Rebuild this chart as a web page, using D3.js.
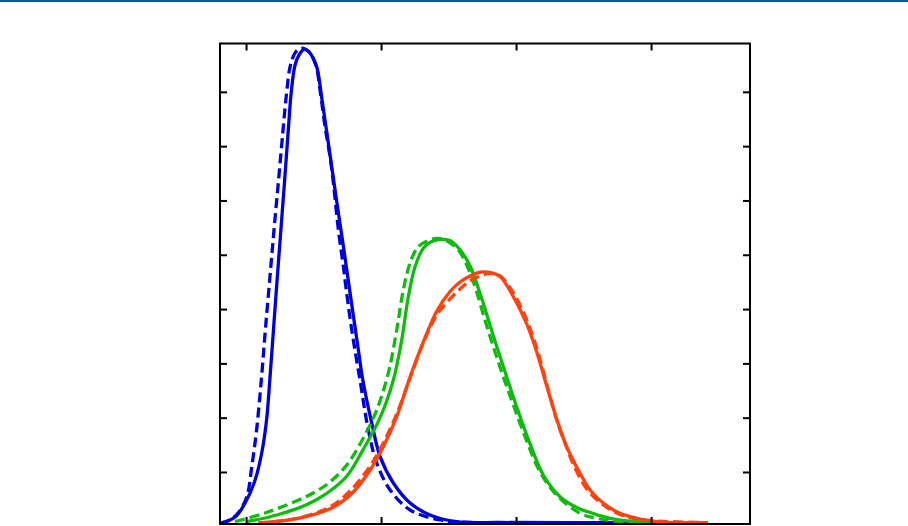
<!DOCTYPE html>
<html><head><meta charset="utf-8">
<script src="https://cdn.jsdelivr.net/npm/d3@7"></script>
<style>html,body{margin:0;padding:0;background:#fff;}svg{display:block;}</style>
</head><body>
<script>
// Tick values (axes carry no labels in the reference)
const xTicks = [1, 2, 3, 4];
const yTicks = [1, 2, 3, 4, 5, 6, 7, 8];

// Series: [x, y] pairs
const blueSolid = [[0.807,0.055],[0.919,0.171],[0.993,0.429],[1.067,0.853],[1.116,1.350],[1.152,1.958],[1.176,2.694],[1.203,3.615],[1.230,4.536],[1.258,5.457],[1.286,6.378],[1.313,7.298],[1.335,7.998],[1.363,8.495],[1.393,8.679],[1.430,8.781],[1.467,8.735],[1.496,8.624],[1.526,8.440],[1.563,7.851],[1.617,6.930],[1.670,6.009],[1.725,5.088],[1.778,4.167],[1.832,3.247],[1.865,2.694],[1.931,1.902],[1.993,1.282],[2.091,0.797],[2.215,0.429],[2.363,0.208],[2.561,0.085],[2.881,0.070],[3.622,0.066],[4.422,0.066]];
const blueDashed = [[0.807,0.055],[0.881,0.116],[0.941,0.245],[1.005,0.540],[1.042,1.092],[1.078,1.773],[1.113,2.694],[1.143,3.615],[1.175,4.536],[1.207,5.457],[1.241,6.378],[1.274,7.298],[1.301,7.998],[1.326,8.458],[1.363,8.716],[1.400,8.799],[1.437,8.790],[1.474,8.716],[1.519,8.477],[1.548,8.035],[1.585,7.359],[1.622,6.807],[1.647,6.322],[1.684,5.457],[1.721,4.781],[1.733,4.536],[1.783,3.615],[1.844,2.694],[1.906,1.773],[1.968,1.166],[2.067,0.669],[2.215,0.300],[2.437,0.116],[2.659,0.070],[4.422,0.066]];
const greenSolid = [[1.005,0.088],[1.141,0.153],[1.264,0.236],[1.400,0.346],[1.511,0.475],[1.622,0.650],[1.746,0.922],[1.869,1.420],[1.993,2.000],[2.091,2.694],[2.153,3.431],[2.202,4.228],[2.252,4.781],[2.313,5.120],[2.363,5.227],[2.413,5.273],[2.459,5.285],[2.511,5.263],[2.585,5.092],[2.659,4.797],[2.733,4.291],[2.832,3.505],[2.931,2.750],[3.005,2.198],[3.104,1.516],[3.202,0.945],[3.326,0.545],[3.461,0.331],[3.548,0.254],[3.696,0.147],[3.894,0.085],[4.422,0.066]];
const greenDashed = [[0.919,0.085],[1.141,0.245],[1.381,0.475],[1.511,0.632],[1.622,0.816],[1.746,1.129],[1.869,1.626],[1.968,2.142],[2.054,2.823],[2.116,3.615],[2.165,4.352],[2.215,4.849],[2.276,5.149],[2.363,5.273],[2.415,5.300],[2.461,5.285],[2.511,5.217],[2.561,5.125],[2.610,4.941],[2.684,4.499],[2.783,3.689],[2.881,2.934],[2.980,2.234],[3.079,1.571],[3.178,1.000],[3.301,0.576],[3.474,0.239],[3.598,0.147],[3.770,0.085],[4.422,0.066]];
const redSolid = [[1.091,0.061],[1.387,0.147],[1.635,0.337],[1.785,0.608],[1.919,1.037],[2.017,1.466],[2.116,2.018],[2.215,2.755],[2.313,3.394],[2.413,3.965],[2.511,4.324],[2.585,4.499],[2.659,4.610],[2.746,4.683],[2.807,4.674],[2.881,4.600],[2.980,4.228],[3.079,3.726],[3.153,3.210],[3.227,2.584],[3.301,1.976],[3.376,1.460],[3.474,0.976],[3.548,0.669],[3.647,0.424],[3.770,0.239],[3.894,0.147],[4.042,0.085],[4.422,0.066]];
const redDashed = [[1.091,0.055],[1.387,0.153],[1.635,0.374],[1.770,0.650],[1.919,1.110],[2.017,1.534],[2.116,2.068],[2.215,2.731],[2.313,3.376],[2.413,3.891],[2.511,4.186],[2.585,4.370],[2.659,4.517],[2.733,4.609],[2.807,4.656],[2.881,4.610],[2.980,4.297],[3.079,3.799],[3.153,3.284],[3.227,2.621],[3.301,1.958],[3.376,1.442],[3.426,1.129],[3.524,0.687],[3.647,0.392],[3.770,0.217],[3.919,0.125],[4.422,0.066]];

const W = 908, H = 526;
const L = 220, R = 750, T = 43.5, B = 524;

const svg = d3.select("body").append("svg").attr("width", W).attr("height", H);

// top banner rule
svg.append("rect").attr("x", 0).attr("y", 0).attr("width", W).attr("height", 2).attr("fill", "#0b5a9f");

const x = d3.scaleLinear().domain([0.807, 4.733]).range([L, R]);
const y = d3.scaleLinear().domain([0, 8.89]).range([526.3, T]);

svg.append("clipPath").attr("id", "plotclip")
  .append("rect").attr("x", L).attr("y", T - 2).attr("width", R - L).attr("height", B - T + 2);

const line = d3.line().x(d => x(d[0])).y(d => y(d[1])).curve(d3.curveCatmullRom.alpha(0.5));

const series = [
  {data: blueSolid, color: "#0000d8", dash: null},
  {data: blueDashed, color: "#0000d8", dash: "10,5"},
  {data: greenSolid, color: "#10bb10", dash: null},
  {data: greenDashed, color: "#10bb10", dash: "10,5"},
  {data: redSolid, color: "#ff4310", dash: null},
  {data: redDashed, color: "#ff4310", dash: "10,5"}
];

const g = svg.append("g").attr("clip-path", "url(#plotclip)");
series.forEach(s => {
  g.append("path").datum(s.data)
    .attr("d", line)
    .attr("fill", "none")
    .attr("stroke", s.color)
    .attr("stroke-width", 3.3)
    .attr("stroke-linejoin", "round")
    .attr("stroke-dasharray", s.dash);
});

// axes with inward ticks, no labels
function styleAxis(sel) {
  sel.select(".domain").remove();
  sel.selectAll(".tick line").attr("stroke", "#000").attr("stroke-width", 2);
  sel.selectAll(".tick text").remove();
}
svg.append("g").attr("transform", `translate(${L},0)`)
  .call(d3.axisLeft(y).tickValues(yTicks).tickSize(-7).tickFormat("")).call(styleAxis);
svg.append("g").attr("transform", `translate(${R},0)`)
  .call(d3.axisRight(y).tickValues(yTicks).tickSize(-7).tickFormat("")).call(styleAxis);
svg.append("g").attr("transform", `translate(0,${T})`)
  .call(d3.axisTop(x).tickValues(xTicks).tickSize(-7).tickFormat("")).call(styleAxis);
svg.append("g").attr("transform", `translate(0,${B})`)
  .call(d3.axisBottom(x).tickValues(xTicks).tickSize(-7).tickFormat("")).call(styleAxis);

// frame
svg.append("rect").attr("x", L).attr("y", T).attr("width", R - L).attr("height", B - T)
  .attr("fill", "none").attr("stroke", "#000").attr("stroke-width", 2);
</script>
</body></html>
